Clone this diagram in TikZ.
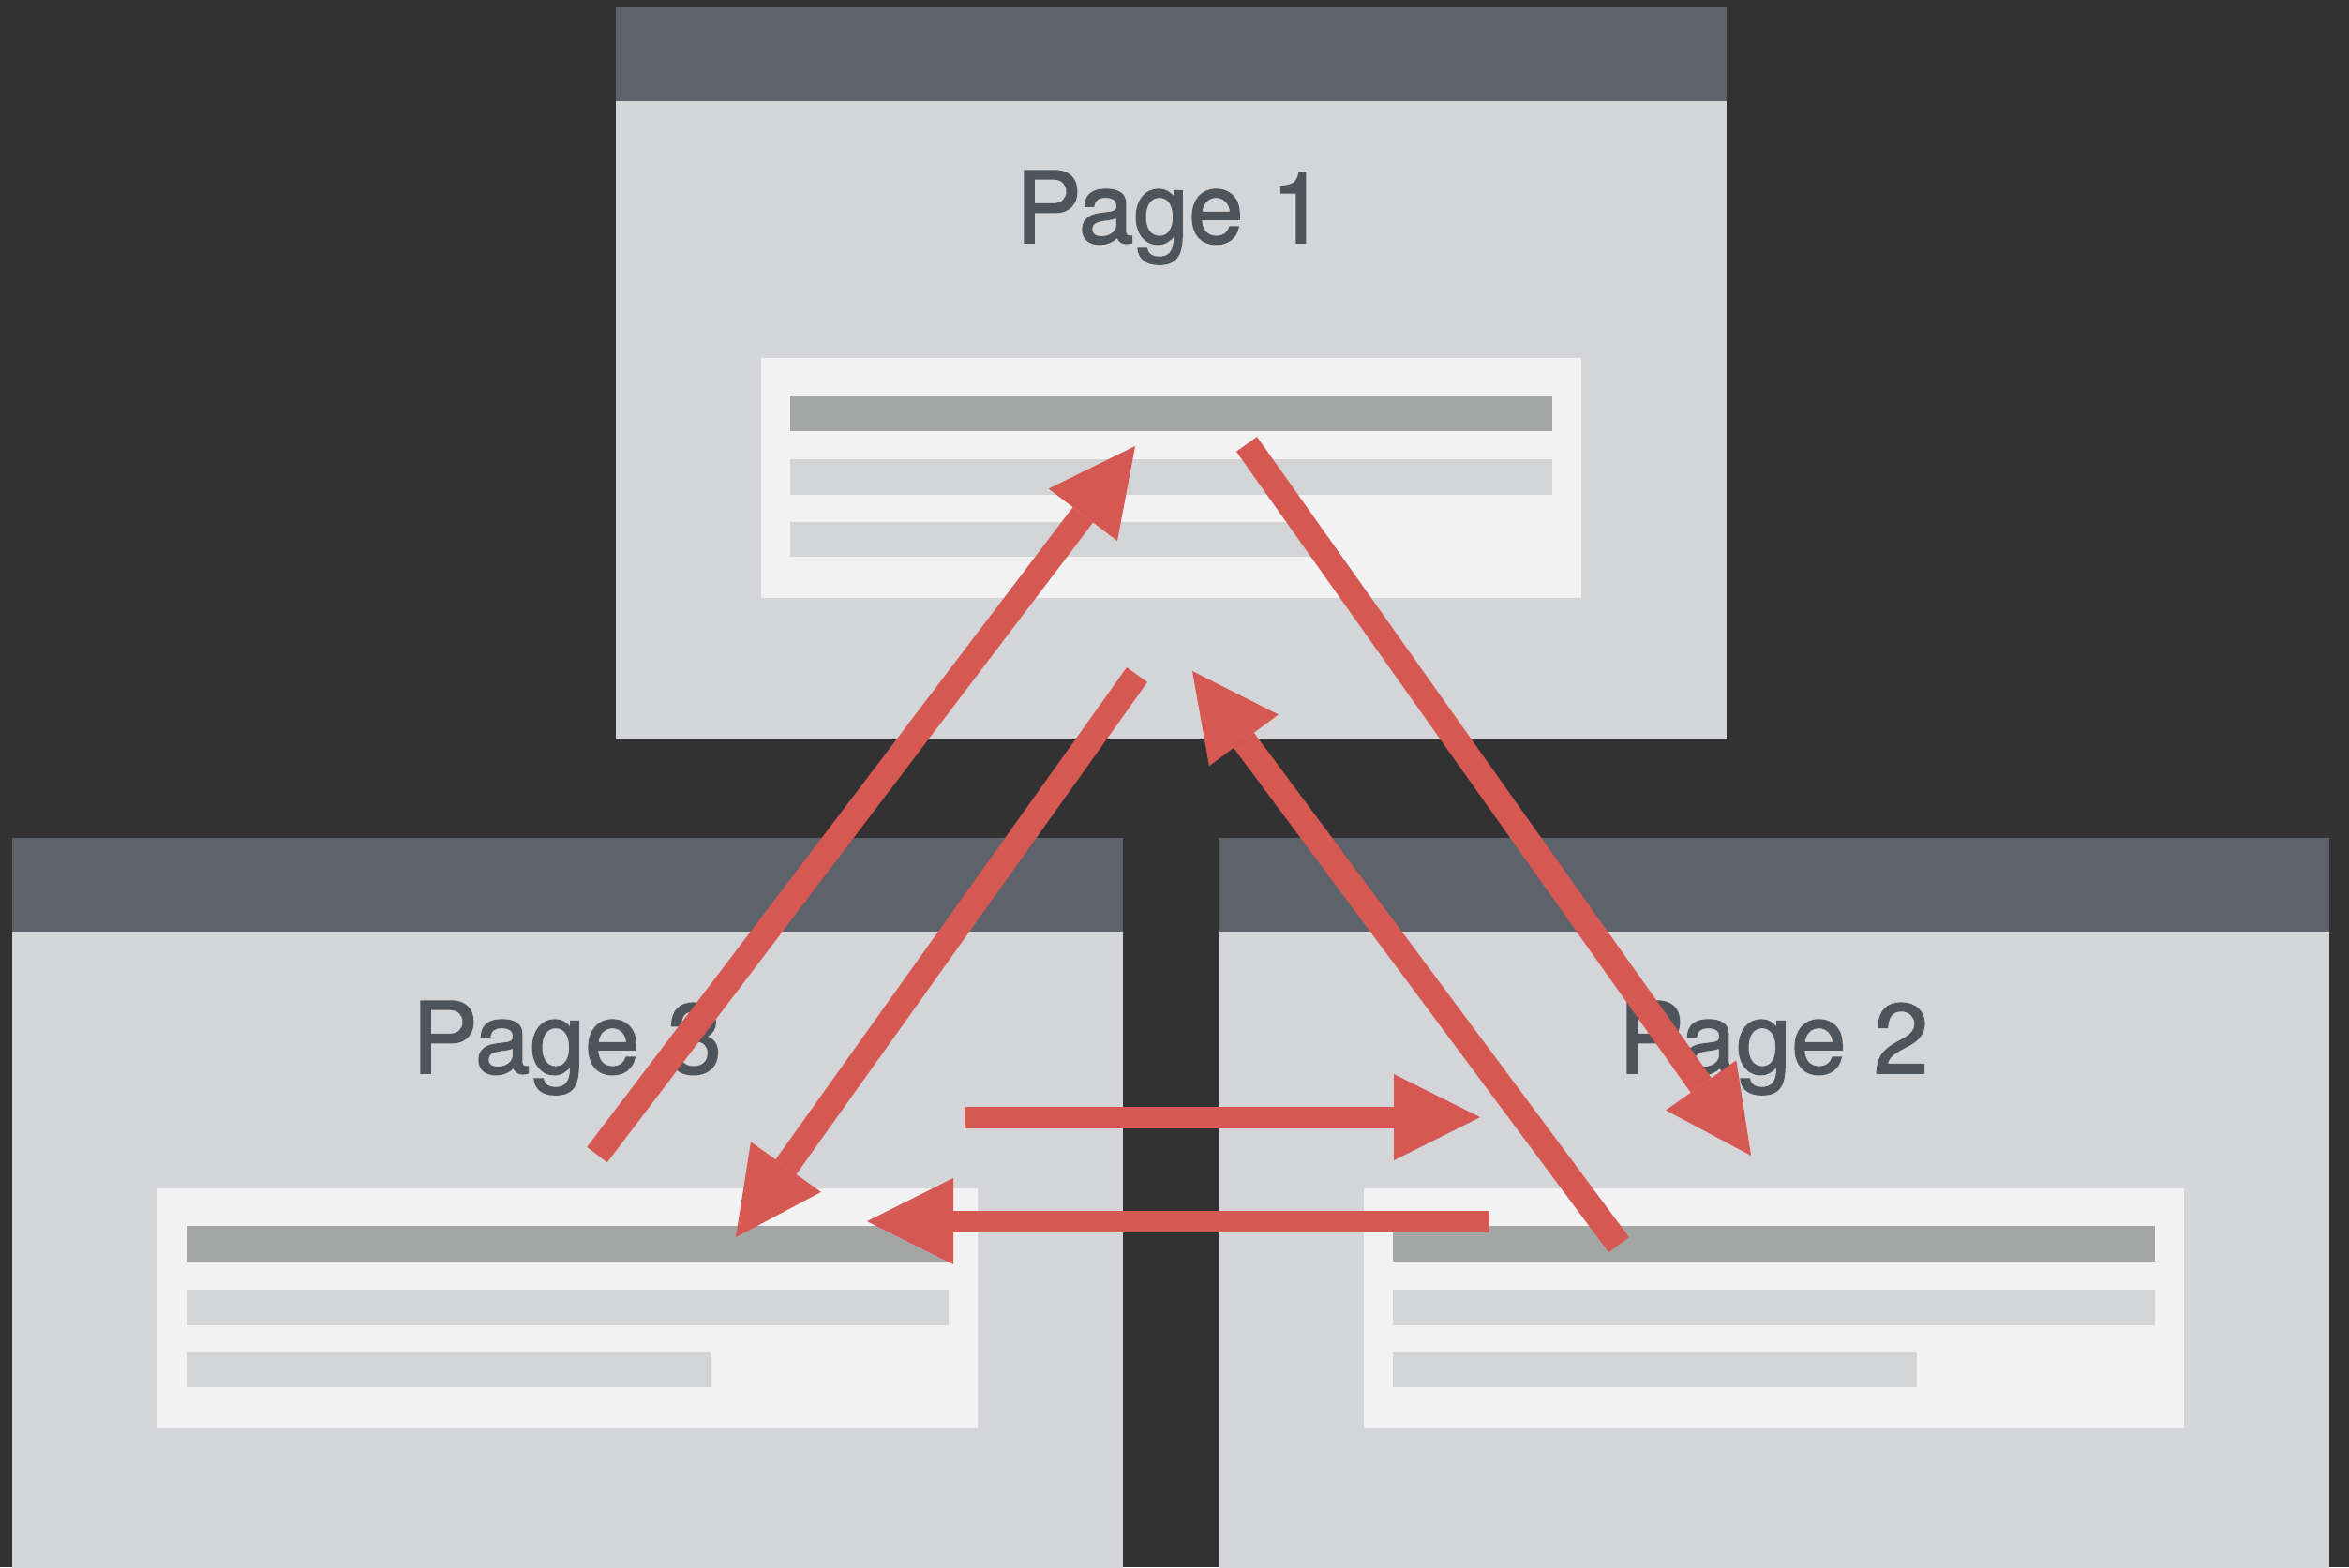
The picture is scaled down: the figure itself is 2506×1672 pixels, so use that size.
\documentclass[tikz,border=0pt]{standalone}
\usepackage{fontspec}
\setmainfont{TeX Gyre Heros}
\newfontfamily\titlefont{TeX Gyre Heros}[FakeBold=1.6]
\usepackage{tikz}
\usetikzlibrary{arrows.meta}

\definecolor{backdrop}{HTML}{323232}
\definecolor{headgray}{HTML}{5E626A}
\definecolor{bodygray}{HTML}{D4D5D8}
\definecolor{panelwhite}{HTML}{F2F2F2}
\definecolor{bardark}{HTML}{A4A6A5}
\definecolor{barlight}{HTML}{D3D4D6}
\definecolor{titlegray}{HTML}{4E545B}
\definecolor{linkred}{HTML}{D55853}

\tikzset{
  pagebody/.style={fill=bodygray},
  pagehead/.style={fill=headgray},
  panel/.style={fill=panelwhite},
  barhead/.style={fill=bardark},
  barline/.style={fill=barlight},
  pagetitle/.style={anchor=base,inner sep=0pt,text=titlegray,
    font=\titlefont\fontsize{30}{36}\selectfont},
  link/.style={draw=linkred,line width=2.7mm,
    -{Triangle[length=9.2mm,width=9.2mm,line width=0pt]}},
  flat link/.style={link,line width=2.3mm},
}

% one browser window: #1 = top left corner, #2 = node name, #3 = title
\newcommand{\browserpage}[3]{%
  \begin{scope}[shift={(#1)}]
    \fill[pagebody] (0,0) rectangle (1185,781);
    \fill[pagehead] (0,0) rectangle (1185,100);
    \fill[panel] (155,374) rectangle (1030,630);
    \fill[barhead] (186,414) rectangle (999,452);
    \fill[barline] (186,482) rectangle (999,520);
    \fill[barline] (186,549) rectangle (745,586);
    \node[pagetitle] (#2) at (592,251) {#3};
  \end{scope}}

\begin{document}
\begin{tikzpicture}[x=0.1mm,y=-0.1mm]
  \useasboundingbox (0,0) rectangle (2506,1672);
  \clip (0,0) rectangle (2506,1672);
  \fill[backdrop] (0,0) rectangle (2506,1672);

  % the three pages
  \browserpage{657,8}{page1}{Page 1}
  \browserpage{13,894}{page3}{Page 3}
  \browserpage{1300,894}{page2}{Page 2}

  % link end points
  \coordinate (p3up) at (637,1232);
  \coordinate (p1in) at (1211,476);
  \coordinate (p1out) at (1330,474);
  \coordinate (p2in) at (1868,1233);
  \coordinate (p1down) at (1213,720);
  \coordinate (p3in) at (785,1320);
  \coordinate (p2up) at (1727,1328);
  \coordinate (p1back) at (1272,716);
  \coordinate (p3right) at (1029,1192);
  \coordinate (p2left) at (1579,1192);
  \coordinate (p2out) at (1589,1303);
  \coordinate (p3back) at (925,1303);

  % links between the pages
  \draw[link] (p3up) -- (p1in);
  \draw[link] (p1out) -- (p2in);
  \draw[link] (p1down) -- (p3in);
  \draw[link] (p2up) -- (p1back);
  \draw[flat link] (p3right) -- (p2left);
  \draw[flat link] (p2out) -- (p3back);
\end{tikzpicture}
\end{document}
